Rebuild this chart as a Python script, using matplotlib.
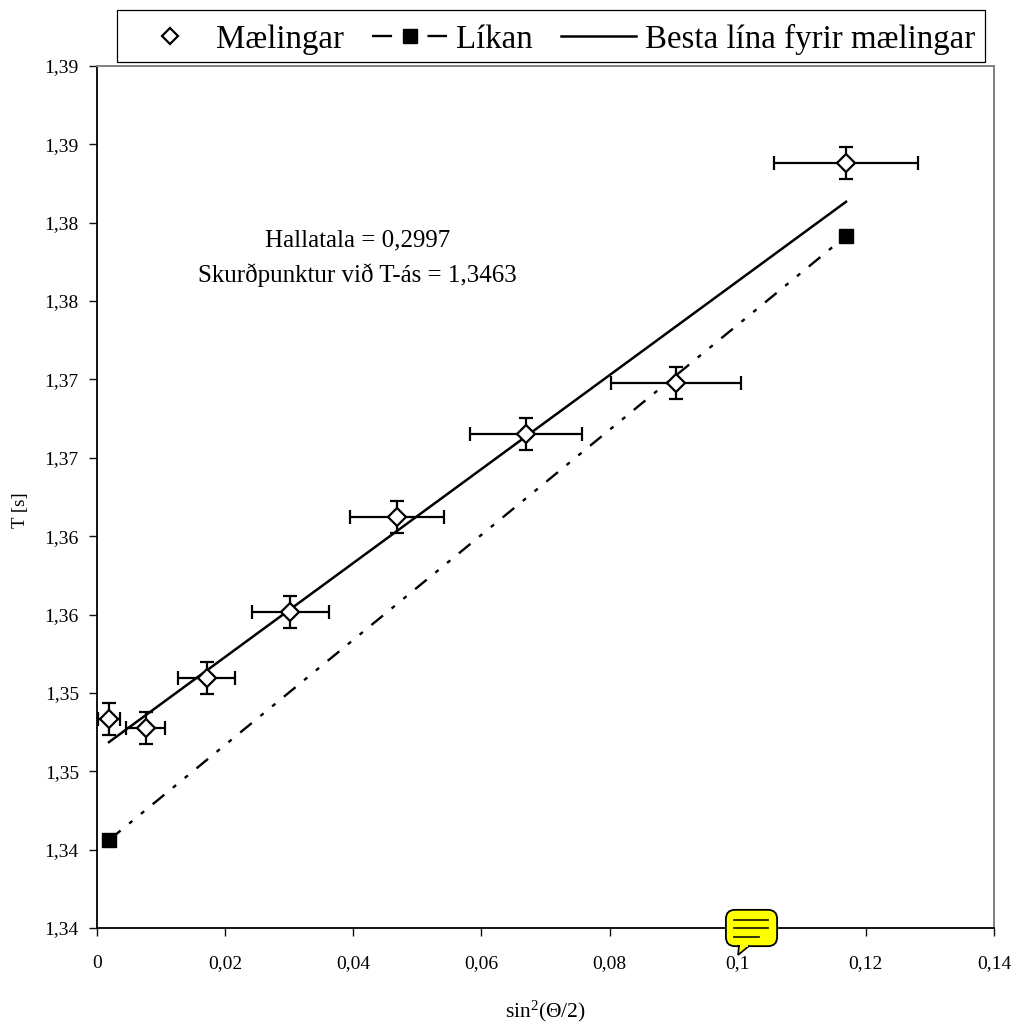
#!/usr/bin/env python3
"""Period against sin^2(theta/2): measurements, model and best fit line."""

import matplotlib

matplotlib.use("Agg")
import matplotlib.pyplot as plt
import numpy as np
from matplotlib.lines import Line2D
from matplotlib.patches import FancyBboxPatch, Polygon, Rectangle
from matplotlib.ticker import FixedLocator, FuncFormatter

measured_x = [0.00187, 0.00757, 0.0171, 0.0302, 0.0468, 0.0670, 0.0904, 0.1169]
measured_t = [1.34834, 1.34776, 1.35095, 1.35516, 1.36122, 1.36652, 1.36977, 1.38381]
measured_xerr = [0.0017, 0.0030, 0.0045, 0.0060, 0.0073, 0.00875, 0.0101, 0.0112]
measured_terr = [0.00102, 0.00102, 0.00102, 0.00102, 0.00102, 0.00102, 0.00102, 0.00102]

model_x = [0.00187, 0.1169]
model_t = [1.34061, 1.37915]

fit_slope = 0.2997
fit_intercept = 1.3463

x_ticks = [0, 0.02, 0.04, 0.06, 0.08, 0.1, 0.12, 0.14]
y_ticks = [1.335, 1.34, 1.345, 1.35, 1.355, 1.36, 1.365, 1.37, 1.375, 1.38, 1.385, 1.39]
y_tick_labels = ["1,34", "1,34", "1,35", "1,35", "1,36", "1,36", "1,37", "1,37", "1,38", "1,38", "1,39", "1,39"]

W, H = 1014, 1023
plt.rcParams["font.family"] = ["Liberation Serif", "DejaVu Serif"]
plt.rcParams["mathtext.default"] = "regular"
DASH_DOT_DOT = (0, (6.35, 4.7, 1.75, 4.7, 1.75, 4.7))


def to_fig(x: float, y: float) -> tuple[float, float]:
    return x / W, 1 - y / H


def main() -> None:
    fig = plt.figure(figsize=(W / 100, H / 100), dpi=100)
    ax = fig.add_axes([97 / W, 1 - 928 / H, (994 - 97) / W, (928 - 66) / H])
    ax.set_xlim(0, 0.14)
    ax.set_ylim(1.335, 1.39)

    ax.xaxis.set_major_locator(FixedLocator(x_ticks))
    ax.xaxis.set_major_formatter(FuncFormatter(lambda v, _: f"{v:g}".replace(".", ",")))
    ax.set_yticks(y_ticks, y_tick_labels)
    ax.tick_params(axis="both", direction="out", length=5.5, width=1.0, labelsize=14, color="#111111")
    ax.tick_params(axis="x", pad=14)
    ax.tick_params(axis="y", pad=7.5)
    ax.spines["left"].set_linewidth(1.3)
    ax.spines["bottom"].set_linewidth(1.3)
    ax.spines["top"].set_color("#808080")
    ax.spines["right"].set_color("#808080")
    ax.spines["top"].set_linewidth(1.4)
    ax.spines["right"].set_linewidth(1.4)

    ax.plot(model_x, model_t, color="black", lw=1.7, ls=DASH_DOT_DOT, marker="s", ms=10, zorder=2)
    fit_x = np.array([measured_x[0], measured_x[-1]])
    ax.plot(fit_x, fit_slope * fit_x + fit_intercept, color="black", lw=1.8, zorder=3)
    ax.errorbar(
        measured_x,
        measured_t,
        xerr=measured_xerr,
        yerr=measured_terr,
        fmt="none",
        ecolor="black",
        elinewidth=1.6,
        capsize=5,
        capthick=1.6,
        zorder=4,
    )
    ax.plot(
        measured_x,
        measured_t,
        ls="none",
        marker="D",
        ms=9,
        mfc="white",
        mec="black",
        mew=1.6,
        zorder=5,
    )

    ax.set_xlabel("sin$^{2}$(Θ/2)", fontsize=15.5, va="center")
    ax.xaxis.set_label_coords((545 - 97) / (994 - 97), -(1011 - 928) / (928 - 66), transform=ax.transAxes)
    ax.set_ylabel("T [s]", fontsize=13.5, va="center")
    ax.yaxis.set_label_coords((20 - 97) / (994 - 97), (928 - 510) / (928 - 66), transform=ax.transAxes)

    ax.text(0.0406, 1.3789, "Hallatala = 0,2997", fontsize=18, ha="center", va="center")
    ax.text(0.0406, 1.37667, "Skurðpunktur við T-ás = 1,3463", fontsize=18, ha="center", va="center")

    # legend sits in its own white box above the plot
    fig.add_artist(Rectangle(to_fig(117, 62), 868 / W, 52 / H, transform=fig.transFigure,
                             facecolor="white", edgecolor="black", lw=0.9))
    handles = [
        Line2D([], [], ls="none", marker="D", ms=8, mfc="white", mec="black", mew=1.6),
        Line2D([], [], color="black", lw=1.7, ls=(0, (8.5, 15)), marker="s", ms=10),
        Line2D([], [], color="black", lw=1.8),
    ]
    fig.legend(
        handles,
        ["Mælingar", "Líkan", "Besta lína fyrir mælingar"],
        ncols=3,
        loc="center",
        bbox_to_anchor=(553.5 / W, 1 - 39 / H),
        frameon=False,
        fontsize=23.7,
        handlelength=2.28,
        handletextpad=0.27,
        columnspacing=0.85,
    )

    # yellow comment bubble on the x axis
    fig.add_artist(FancyBboxPatch(to_fig(733, 939), 37 / W, 22 / H, boxstyle="round,pad=0.007,rounding_size=0.009",
                                  transform=fig.transFigure, facecolor="#ffff00", edgecolor="black", lw=1.3, zorder=10))
    fig.add_artist(Polygon([to_fig(739, 946), to_fig(738, 955), to_fig(749, 946)], transform=fig.transFigure,
                           facecolor="#ffff00", edgecolor="black", lw=1.2, zorder=10))
    fig.add_artist(Rectangle(to_fig(740, 947), 8 / W, 3 / H, transform=fig.transFigure, facecolor="#ffff00",
                             edgecolor="none", zorder=11))
    for y, x1 in ((920, 768), (928, 768), (937, 759)):
        fig.add_artist(Line2D([734 / W, x1 / W], [1 - y / H, 1 - y / H], color="#222200", lw=1.3, zorder=12))

    fig.savefig("out.png", dpi=100)
    plt.close(fig)


if __name__ == "__main__":
    main()
